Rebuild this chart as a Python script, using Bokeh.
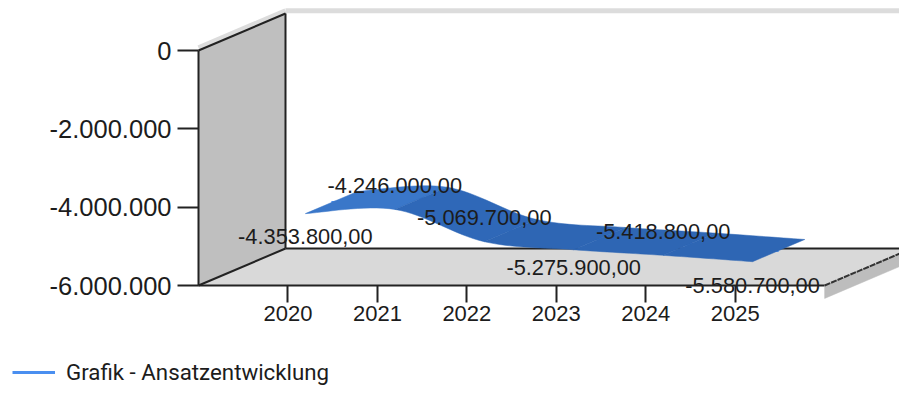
from bokeh.plotting import figure
from bokeh.models import Range1d, FixedTicker, Legend, LegendItem, ColumnDataSource
from bokeh.core.properties import value as fixed
from bokeh.embed import file_html
from bokeh.resources import INLINE

years = [2020, 2021, 2022, 2023, 2024, 2025]
values = [-4353800, -4246000, -5069700, -5275900, -5418800, -5580700]
labels = ["-4.353.800,00", "-4.246.000,00", "-5.069.700,00", "-5.275.900,00", "-5.418.800,00", "-5.580.700,00"]
y_ticks = [0, -2000000, -4000000, -6000000]
y_tick_labels = ["0", "-2.000.000", "-4.000.000", "-6.000.000"]
series_name = "Grafik - Ansatzentwicklung"
label_offsets = [23, -24, -24, 18, -24, 24]  # screen px relative to the ribbon front edge
segment_colors = ["#3a77c9", "#2f68b8", "#2e66b4", "#2e66b4", "#2e66b4"]

W, H = 899, 386
PX_PER_YEAR = 89.45
PX_PER_VALUE = 235 / 6000000
X0, Y0 = 198, 50  # canvas pixel of the axis corner (year 2019, value 0)
DEPTH_X, DEPTH_Y = 87, 37  # pixel shift between front and back of the box
Y_MIN, Y_MAX = -6000000, 0
X_MIN, X_MAX = 2019, 2026


def proj(year, val, depth=0.0):
    return year + depth * DEPTH_X / PX_PER_YEAR, val + depth * DEPTH_Y / PX_PER_VALUE


def spline(xs, ys, steps=16):
    out_x, out_y = [], []
    n = len(xs)
    for i in range(n - 1):
        a, b, c, d = max(i - 1, 0), i, i + 1, min(i + 2, n - 1)
        for s in range(steps + 1):
            t = s / steps
            for src, dst in ((xs, out_x), (ys, out_y)):
                m1 = (src[c] - src[a]) / 2
                m2 = (src[d] - src[b]) / 2
                dst.append((2*t**3 - 3*t**2 + 1) * src[b] + (t**3 - 2*t**2 + t) * m1
                           + (-2*t**3 + 3*t**2) * src[c] + (t**3 - t**2) * m2)
    return out_x, out_y


p = figure(width=W, height=H, output_backend="svg", toolbar_location=None,
           x_range=Range1d(X_MIN - X0 / PX_PER_YEAR, X_MIN + (W - X0) / PX_PER_YEAR),
           y_range=Range1d((Y0 - H) / PX_PER_VALUE, Y0 / PX_PER_VALUE),
           min_border=0, outline_line_color=None, background_fill_color="white")
p.grid.visible = False


def poly(corners, color):
    pts = [proj(*c) for c in corners]
    p.patch([q[0] for q in pts], [q[1] for q in pts], fill_color=color, line_color=color, line_width=0.5)


def seg(c1, c2, color="#222222", width=2, dash="solid"):
    a, b = proj(*c1), proj(*c2)
    p.line([a[0], b[0]], [a[1], b[1]], line_color=color, line_width=width, line_dash=dash)


# top and side thickness of the walls
seg((X_MIN, Y_MAX + 70000, 0), (X_MIN, Y_MAX + 70000, 1), "#dcdcdc", 5)
seg((X_MIN, Y_MAX + 70000, 1), (X_MAX, Y_MAX + 70000, 1), "#dcdcdc", 5)
poly([(X_MIN, Y_MAX, 0), (X_MIN, Y_MAX, 1), (X_MIN, Y_MIN, 1), (X_MIN, Y_MIN, 0)], "#bfbfbf")
poly([(X_MIN, Y_MIN, 0), (X_MIN, Y_MIN, 1), (X_MAX, Y_MIN, 1), (X_MAX, Y_MIN, 0)], "#d9d9d9")
poly([(X_MAX, Y_MIN, 0), (X_MAX, Y_MIN, 1), (X_MAX, Y_MIN - 330000, 1), (X_MAX, Y_MIN - 330000, 0)], "#bdbdbd")
seg((X_MIN, Y_MAX, 0), (X_MIN, Y_MAX, 1))
seg((X_MIN, Y_MAX, 1), (X_MIN, Y_MIN, 1))
seg((X_MIN, Y_MIN, 0), (X_MIN, Y_MIN, 1))
seg((X_MIN, Y_MIN, 1), (X_MAX, Y_MIN, 1))
seg((X_MAX, Y_MIN, 0), (X_MAX, Y_MIN, 1), "#333333", 2, "6 1")

# ribbon, one patch per category gap, following a smooth curve through the values
FRONT, BACK = 0.2, 0.8
steps = 16
fx, fy = zip(*[proj(y, v, FRONT) for y, v in zip(years, values)])
bx, by = zip(*[proj(y, v, BACK) for y, v in zip(years, values)])
mx, my = zip(*[proj(y, v, 0.5) for y, v in zip(years, values)])
sfx, sfy = spline(list(fx), list(fy), steps)
sbx, sby = spline(list(bx), list(by), steps)
smx, smy = spline(list(mx), list(my), steps)
key = p.line(smx, smy, line_color="#4a8ff0", line_width=3)
for i, color in enumerate(segment_colors):
    a, b = i * (steps + 1), (i + 1) * (steps + 1)
    p.patch(sfx[a:b] + sbx[a:b][::-1], sfy[a:b] + sby[a:b][::-1],
            fill_color=color, line_color=color, line_width=0.5)

# data labels, anchored on the ribbon front edge
text_src = ColumnDataSource(dict(x=fx, y=fy, t=labels, off=label_offsets))
p.text(x="x", y="y", text="t", y_offset="off", source=text_src, text_align="center",
       text_baseline="middle", text_font=fixed("Liberation Sans"), text_font_size="21.8px",
       text_color="#1c1c1c")

# axes
p.xaxis.fixed_location = Y_MIN
p.xaxis.bounds = (X_MIN, X_MAX)
p.xaxis.ticker = FixedTicker(ticks=years)
p.xaxis.major_label_overrides = {y: str(y) for y in years}
p.xaxis.major_tick_out = 17
p.xaxis.major_tick_in = 0
p.xaxis.minor_tick_out = 0
p.xaxis.minor_tick_in = 0
p.xaxis.major_label_standoff = 3
p.xaxis.major_label_text_font = "Liberation Sans"
p.xaxis.major_label_text_font_size = "22px"
p.xaxis.major_label_text_color = "#1c1c1c"
p.xaxis.axis_line_color = "#222222"
p.xaxis.axis_line_width = 2
p.xaxis.major_tick_line_color = "#222222"
p.xaxis.major_tick_line_width = 2

p.yaxis.fixed_location = X_MIN
p.yaxis.bounds = (Y_MIN, Y_MAX)
p.yaxis.ticker = FixedTicker(ticks=y_ticks)
p.yaxis.major_label_overrides = dict(zip(y_ticks, y_tick_labels))
p.yaxis.major_tick_out = 21
p.yaxis.major_tick_in = 0
p.yaxis.minor_tick_out = 0
p.yaxis.minor_tick_in = 0
p.yaxis.major_label_standoff = 6
p.yaxis.major_label_text_font = "Liberation Sans"
p.yaxis.major_label_text_font_size = "25.5px"
p.yaxis.major_label_text_color = "#1c1c1c"
p.yaxis.axis_line_color = "#222222"
p.yaxis.axis_line_width = 2
p.yaxis.major_tick_line_color = "#222222"
p.yaxis.major_tick_line_width = 2

# legend
legend = Legend(items=[LegendItem(label=series_name, renderers=[key])], location=(12, 1),
                background_fill_alpha=0, border_line_color=None, padding=0, margin=0,
                glyph_width=43, glyph_height=20, label_standoff=11,
                label_text_font="Roboto", label_text_font_size="22.3px", label_text_color="#1c1c1c")
p.add_layout(legend, "center")

open("out.html", "w").write(file_html(p, INLINE))
